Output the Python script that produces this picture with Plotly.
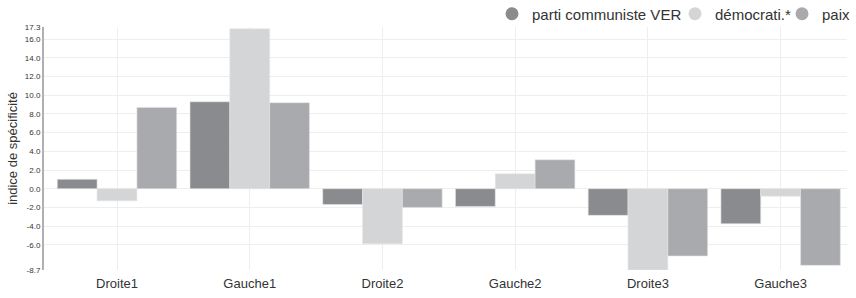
import plotly.graph_objects as go

categories = ["Droite1", "Gauche1", "Droite2", "Gauche2", "Droite3", "Gauche3"]
series_names = ["parti communiste VER", "démocrati.*", "paix"]
parti = [1.0, 9.3, -1.7, -1.9, -2.85, -3.75]
democrati = [-1.3, 17.1, -5.9, 1.6, -8.7, -0.8]
paix = [8.7, 9.2, -2.0, 3.1, -7.2, -8.2]
tick_vals = [17.3, 16, 14, 12, 10, 8, 6, 4, 2, 0, -2, -4, -6, -8.7]
tick_text = ["17.3", "16.0", "14.0", "12.0", "10.0", "8.0", "6.0", "4.0", "2.0", "0.0", "-2.0", "-4.0", "-6.0", "-8.7"]

colors = ["#8a8b8f", "#d4d5d7", "#a9aaad"]
values = [parti, democrati, paix]
legend_ids = ["legend", "legend2", "legend3"]
legend_x = [492, 675, 782]

fig = go.Figure()
for name, vals, col in zip(series_names, values, colors):
    fig.add_trace(go.Bar(x=categories, y=vals, name=name, marker=dict(color=col, line=dict(color="#e6e6e6", width=0.6)),
                         showlegend=False, legendgroup=name))
for name, col, lid in zip(series_names, colors, legend_ids):
    fig.add_trace(go.Scatter(x=[categories[0]], y=[None], mode="markers", name=name, legendgroup=name,
                             legend=lid, marker=dict(symbol="circle", size=13, color=col), showlegend=True))

leg_common = dict(orientation="h", xref="container", xanchor="left", yref="container",
                  y=1 - 14 / 298, yanchor="middle", font=dict(size=15, color="#333"),
                  bgcolor="rgba(0,0,0,0)", borderwidth=0)
fig.update_layout(
    width=856, height=298,
    margin=dict(l=44, r=9, t=27, b=28, autoexpand=False),
    paper_bgcolor="white", plot_bgcolor="white",
    font=dict(family="Liberation Sans, Arial, sans-serif", color="#333"),
    barmode="group", bargap=0.1, bargroupgap=0.0,
    legend=dict(x=legend_x[0] / 856, **leg_common),
    legend2=dict(x=legend_x[1] / 856, **leg_common),
    legend3=dict(x=legend_x[2] / 856, **leg_common),
    showlegend=True,
)
fig.update_xaxes(range=[-0.55, 5.5], showgrid=True, gridcolor="#eeeeee", gridwidth=1, automargin=False,
                 tickfont=dict(size=13, color="#333"), ticks="", showline=False, zeroline=False,
                 ticklabelstandoff=4)
fig.update_yaxes(range=[-8.7, 17.3], tickvals=tick_vals, ticktext=tick_text, showgrid=True, automargin=False,
                 gridcolor="#eeeeee", gridwidth=1, tickfont=dict(size=8, color="#333"),
                 showline=True, linecolor="#b0b0b0", linewidth=2, zeroline=False,
                 title=dict(text="indice de spécificité", font=dict(size=13, color="#333"), standoff=4))

fig.write_html("out.html", config={"displayModeBar": False},
               post_script="document.body.style.margin='0';")
